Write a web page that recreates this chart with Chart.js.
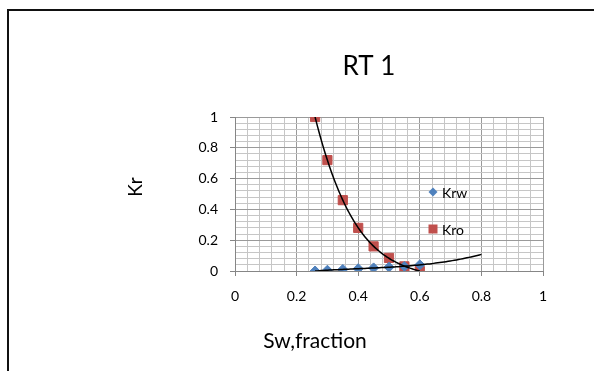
<!DOCTYPE html>
<html>
<head>
<meta charset="utf-8">
<title>RT 1</title>
<script src="https://cdn.jsdelivr.net/npm/chart.js@4.4.0/dist/chart.umd.min.js"></script>
<style>
  html, body { margin: 0; padding: 0; background: #fff; }
  #wrap { width: 594px; height: 371px; }
</style>
</head>
<body>
<div id="wrap"><canvas id="rt1" width="594" height="371"></canvas></div>
<script>
// water saturation and relative permeabilities
const sw  = [0.26, 0.3, 0.35, 0.4, 0.45, 0.5, 0.55, 0.6];
const krw = [0, 0.005, 0.01, 0.015, 0.02, 0.025, 0.03, 0.04];
const kro = [1, 0.72, 0.46, 0.28, 0.16, 0.085, 0.03, 0];

const seriesNames = ['Krw', 'Kro'];
const xTickLabels = [0, 0.2, 0.4, 0.6, 0.8, 1];
const yTickLabels = [0, 0.2, 0.4, 0.6, 0.8, 1];

const FONT = 'Lato, "Open Sans", sans-serif';
const BLUE = '#4f81bd';
const RED = '#c0504d';

// least squares polynomial, coefficients low -> high
function polyFit(xs, ys, order) {
  const n = order + 1;
  const A = Array.from({ length: n }, () => new Array(n + 1).fill(0));
  xs.forEach((x, i) => {
    for (let r = 0; r < n; r++) {
      for (let c = 0; c < n; c++) A[r][c] += Math.pow(x, r + c);
      A[r][n] += ys[i] * Math.pow(x, r);
    }
  });
  for (let col = 0; col < n; col++) {
    let piv = col;
    for (let r = col + 1; r < n; r++) if (Math.abs(A[r][col]) > Math.abs(A[piv][col])) piv = r;
    [A[col], A[piv]] = [A[piv], A[col]];
    for (let r = 0; r < n; r++) {
      if (r === col) continue;
      const f = A[r][col] / A[col][col];
      for (let c = col; c <= n; c++) A[r][c] -= f * A[col][c];
    }
  }
  return A.map((row, i) => row[n] / row[i]);
}

function trendLine(xs, ys, order, from, to) {
  const k = polyFit(xs, ys, order);
  const pts = [];
  for (let i = 0; i <= 80; i++) {
    const x = from + (to - from) * i / 80;
    pts.push({ x, y: k.reduce((s, c, p) => s + c * Math.pow(x, p), 0) });
  }
  return pts;
}

const pairs = (xs, ys) => xs.map((x, i) => ({ x, y: ys[i] }));
const isMajor = v => Math.abs(v * 5 - Math.round(v * 5)) < 1e-6;
const inList = (list, v) => list.some(t => Math.abs(t - v) < 1e-6);

// frame, titles and legend
const decorations = {
  id: 'decorations',
  beforeDraw(chart) {
    const ctx = chart.ctx;
    ctx.save();
    ctx.fillStyle = '#fff';
    ctx.fillRect(0, 0, chart.width, chart.height);
    ctx.strokeStyle = '#111';
    ctx.lineWidth = 2;
    ctx.beginPath();
    ctx.moveTo(8, chart.height);
    ctx.lineTo(8, 10);
    ctx.lineTo(chart.width, 10);
    ctx.stroke();
    ctx.restore();
  },
  afterDraw(chart) {
    const ctx = chart.ctx;
    const area = chart.chartArea;
    ctx.save();
    ctx.fillStyle = '#000';
    ctx.textAlign = 'center';
    ctx.textBaseline = 'middle';

    ctx.font = '26px ' + FONT;
    ctx.fillText('RT 1', 369, 67);

    ctx.font = '21px ' + FONT;
    ctx.fillText('Sw,fraction', 315, 341);

    ctx.save();
    ctx.translate(136, 187);
    ctx.rotate(-Math.PI / 2);
    ctx.font = '19px ' + FONT;
    ctx.fillText('Kr', 0, 0);
    ctx.restore();

    // legend
    const lx = area.left + 198;
    const rows = [area.top + 75, area.top + 112];
    ctx.font = '14px ' + FONT;
    ctx.textAlign = 'left';
    seriesNames.forEach((name, i) => {
      const y = rows[i];
      ctx.fillStyle = i === 0 ? BLUE : RED;
      ctx.beginPath();
      if (i === 0) {
        ctx.moveTo(lx, y - 4.5); ctx.lineTo(lx + 4.5, y);
        ctx.lineTo(lx, y + 4.5); ctx.lineTo(lx - 4.5, y);
      } else {
        ctx.rect(lx - 4.5, y - 4.5, 9, 9);
      }
      ctx.fill();
      ctx.fillStyle = '#000';
      ctx.fillText(name, lx + 9, y + 1);
    });
    ctx.restore();
  }
};

const gridStyle = {
  color: c => isMajor(c.tick.value) ? '#9a9a9a' : '#c6c6c6',
  lineWidth: 1,
  tickLength: 5,
  tickColor: c => isMajor(c.tick.value) ? '#868686' : 'rgba(0,0,0,0)'
};

new Chart(document.getElementById('rt1'), {
  type: 'scatter',
  data: {
    datasets: [
      {
        label: 'Krw trend',
        data: trendLine(sw, krw, 3, sw[0], 0.8),
        showLine: true,
        borderColor: '#000',
        borderWidth: 1.5,
        pointRadius: 0,
        order: 0
      },
      {
        label: 'Kro trend',
        data: trendLine(sw, kro, 4, sw[0], sw[sw.length - 1]),
        showLine: true,
        borderColor: '#000',
        borderWidth: 1.5,
        pointRadius: 0,
        order: 0
      },
      {
        label: seriesNames[0],
        data: pairs(sw, krw),
        pointStyle: 'rectRot',
        pointRadius: 5,
        backgroundColor: BLUE,
        borderColor: BLUE,
        order: 1
      },
      {
        label: seriesNames[1],
        data: pairs(sw, kro),
        pointStyle: 'rect',
        pointRadius: 6.5,
        backgroundColor: RED,
        borderColor: RED,
        order: 2
      }
    ]
  },
  options: {
    responsive: false,
    animation: false,
    devicePixelRatio: 1,
    layout: { padding: { left: 185, right: 51, top: 117, bottom: 65 } },
    plugins: {
      legend: { display: false },
      title: { display: false },
      tooltip: { enabled: false }
    },
    scales: {
      x: {
        type: 'linear',
        min: 0,
        max: 1,
        afterFit: s => { s.height = 35; },
        ticks: {
          stepSize: 0.04,
          autoSkip: false,
          maxRotation: 0,
          padding: 12,
          color: '#000',
          font: { family: FONT, size: 14 },
          callback: v => inList(xTickLabels, v) ? String(Math.round(v * 10) / 10) : ''
        },
        grid: gridStyle,
        border: { color: '#868686' }
      },
      y: {
        type: 'linear',
        min: 0,
        max: 1,
        afterFit: s => { s.width = 50; },
        ticks: {
          stepSize: 0.04,
          autoSkip: false,
          padding: 12,
          color: '#000',
          font: { family: FONT, size: 14 },
          callback: v => inList(yTickLabels, v) ? String(Math.round(v * 10) / 10) : ''
        },
        grid: gridStyle,
        border: { color: '#868686' }
      }
    }
  },
  plugins: [decorations]
});
</script>
</body>
</html>
